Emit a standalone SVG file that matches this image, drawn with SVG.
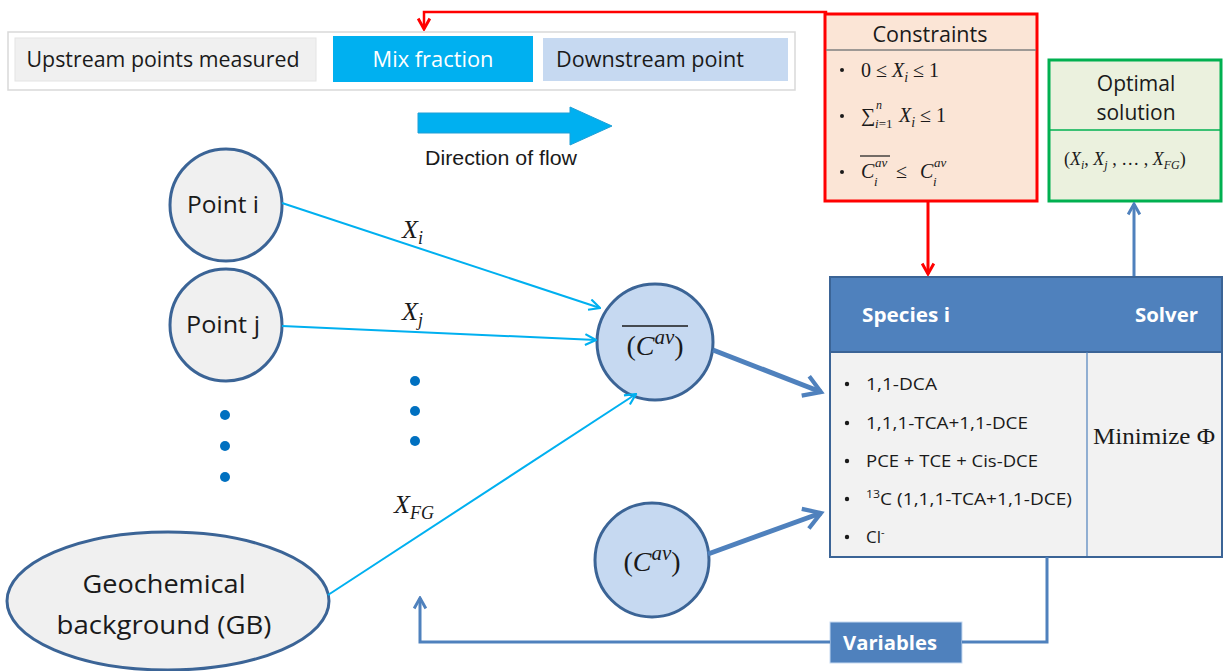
<svg xmlns="http://www.w3.org/2000/svg" width="1223" height="671" viewBox="0 0 1223 671">
<style>
.sans{font-family:"Liberation Sans",Arial,sans-serif;fill:#1a1a1a}
.cal{font-family:"Open Sans","Liberation Sans",sans-serif;fill:#1a1a1a}
.math{font-family:"Liberation Serif","DejaVu Serif",serif;font-style:italic;fill:#1a1a1a}
.rom{font-family:"Liberation Serif","DejaVu Serif",serif;fill:#1a1a1a}
.node{fill:#f0f0f0;stroke:#3b6496;stroke-width:3}
.cav{fill:#c6d9f1;stroke:#3b6496;stroke-width:3}
.cyan{stroke:#00b0f0;stroke-width:2;fill:none}
.thick{stroke:#4f81bd;stroke-width:5;fill:none}
.dot{fill:#0070c0}
.wb{font-family:"Open Sans","Liberation Sans",sans-serif;font-weight:bold;fill:#fff}
</style>
<defs>
<marker id="mc" viewBox="0 0 12 12" refX="11" refY="6" markerWidth="13" markerHeight="13" markerUnits="userSpaceOnUse" orient="auto">
<path d="M1,1 L11,6 L1,11" fill="none" stroke="#00b0f0" stroke-width="2"/>
</marker>
<marker id="mt" viewBox="0 0 12 12" refX="10" refY="6" markerWidth="5" markerHeight="5" orient="auto">
<path d="M2,1 L10,6 L2,11" fill="none" stroke="#4f81bd" stroke-width="2"/>
</marker>
<marker id="mb" viewBox="0 0 12 12" refX="10" refY="6" markerWidth="14" markerHeight="14" markerUnits="userSpaceOnUse" orient="auto">
<path d="M1,1 L10,6 L1,11" fill="none" stroke="#4f81bd" stroke-width="2.5"/>
</marker>
<marker id="mr" viewBox="0 0 12 12" refX="10" refY="6" markerWidth="14" markerHeight="14" markerUnits="userSpaceOnUse" orient="auto">
<path d="M1,1 L10,6 L1,11" fill="none" stroke="#ff0000" stroke-width="2.5"/>
</marker>
</defs>
<rect width="1223" height="671" fill="#fff"/>

<g id="legend">
<rect x="8" y="32" width="787" height="58" fill="#fff" stroke="#d9d9d9" stroke-width="1.5"/>
<rect x="15" y="38" width="301" height="43" fill="#f0f0f0" stroke="#e4e4e4"/>
<text class="cal" x="163" y="67" font-size="21" text-anchor="middle" textLength="273" lengthAdjust="spacingAndGlyphs">Upstream points measured</text>
<rect x="333" y="36" width="200" height="46" fill="#00b0f0"/>
<text class="cal" x="433" y="67" font-size="21" text-anchor="middle" style="fill:#fff" textLength="121" lengthAdjust="spacingAndGlyphs">Mix fraction</text>
<rect x="543" y="38" width="245" height="43" fill="#c6d9f1"/>
<text class="cal" x="650" y="67" font-size="21" text-anchor="middle" textLength="188" lengthAdjust="spacingAndGlyphs">Downstream point</text>
</g>

<g id="flow-direction">
<path d="M418,113 H570 V107 L612,126 L570,145 V133 H418 Z" fill="#00b0f0" stroke="#1f9fd6" stroke-width="1"/>
<text class="sans" x="501" y="165" font-size="20" text-anchor="middle" textLength="152" lengthAdjust="spacingAndGlyphs">Direction of flow</text>
</g>

<g id="point-i">
<circle class="node" cx="226" cy="205" r="56"/>
<text class="cal" x="223" y="213" font-size="23" text-anchor="middle" textLength="72" lengthAdjust="spacingAndGlyphs">Point i</text>
</g>
<g id="point-j">
<circle class="node" cx="226" cy="325" r="56"/>
<text class="cal" x="223" y="333" font-size="23" text-anchor="middle" textLength="74" lengthAdjust="spacingAndGlyphs">Point j</text>
</g>
<g id="left-dots">
<circle class="dot" cx="225" cy="415" r="5"/>
<circle class="dot" cx="225" cy="446" r="5"/>
<circle class="dot" cx="225" cy="477" r="5"/>
</g>
<g id="mid-dots">
<circle class="dot" cx="415" cy="381" r="5"/>
<circle class="dot" cx="415" cy="411" r="5"/>
<circle class="dot" cx="415" cy="441" r="5"/>
</g>
<g id="gb">
<ellipse class="node" cx="168" cy="601" rx="161" ry="69"/>
<text class="cal" x="164" y="593" font-size="26" text-anchor="middle" textLength="163" lengthAdjust="spacingAndGlyphs">Geochemical</text>
<text class="cal" x="164" y="634" font-size="26" text-anchor="middle" textLength="215" lengthAdjust="spacingAndGlyphs">background (GB)</text>
</g>

<g id="cav-bar">
<circle class="cav" cx="655" cy="342" r="58"/>
<text class="math" x="655" y="355" font-size="28" text-anchor="middle"><tspan font-style="normal">(</tspan>C<tspan dy="-11" font-size="21">av</tspan><tspan dy="11" font-style="normal">)</tspan></text>
<line x1="622" y1="326" x2="688" y2="326" stroke="#1a1a1a" stroke-width="1.5"/>
</g>
<g id="cav">
<circle class="cav" cx="652" cy="560" r="57"/>
<text class="math" x="652" y="571" font-size="28" text-anchor="middle"><tspan font-style="normal">(</tspan>C<tspan dy="-11" font-size="21">av</tspan><tspan dy="11" font-style="normal">)</tspan></text>
</g>

<g id="constraints">
<rect x="825" y="14" width="212" height="187" fill="#fbe5d6" stroke="#ff0000" stroke-width="3"/>
<line x1="826" y1="50" x2="1036" y2="50" stroke="#7f7f7f" stroke-width="1.5"/>
<text class="cal" x="930" y="42" font-size="21" text-anchor="middle" textLength="115" lengthAdjust="spacingAndGlyphs">Constraints</text>
<circle cx="842" cy="70" r="2" fill="#1a1a1a"/>
<circle cx="842" cy="116" r="2" fill="#1a1a1a"/>
<circle cx="842" cy="172" r="2" fill="#1a1a1a"/>
<text class="rom" x="861" y="77" font-size="20">0 ≤ <tspan class="math">X</tspan><tspan class="math" dy="5" font-size="14">i</tspan><tspan dy="-5"> ≤ 1</tspan></text>
<text class="rom" x="861" y="122" font-size="20">∑</text>
<text class="math" x="876" y="109" font-size="12">n</text>
<text class="math" x="875" y="128" font-size="13">i<tspan font-style="normal">=1</tspan></text>
<text class="rom" x="899" y="122" font-size="20"><tspan class="math">X</tspan><tspan class="math" dy="5" font-size="14">i</tspan><tspan dy="-5"> ≤ 1</tspan></text>
<text class="math" x="861" y="178" font-size="20">C</text>
<text class="math" x="875" y="167" font-size="13">av</text>
<text class="math" x="874" y="186" font-size="13">i</text>
<text class="rom" x="896" y="178" font-size="20">≤</text>
<text class="math" x="920" y="178" font-size="20">C</text>
<text class="math" x="934" y="167" font-size="13">av</text>
<text class="math" x="933" y="186" font-size="13">i</text>
<line x1="860" y1="156" x2="890" y2="156" stroke="#1a1a1a" stroke-width="1.2"/>
</g>

<g id="optimal">
<rect x="1049" y="60" width="172" height="141" fill="#ebf1de" stroke="#00b050" stroke-width="3"/>
<line x1="1050" y1="130" x2="1220" y2="130" stroke="#00b050" stroke-width="1.5"/>
<text class="cal" x="1136" y="91" font-size="21" text-anchor="middle">Optimal</text>
<text class="cal" x="1136" y="120" font-size="21" text-anchor="middle">solution</text>
<text class="rom" x="1064" y="165" font-size="18">(<tspan class="math">X</tspan><tspan class="math" dy="4" font-size="12">i</tspan><tspan dy="-4">, </tspan><tspan class="math">X</tspan><tspan class="math" dy="4" font-size="12">j</tspan><tspan dy="-4"> , … , </tspan><tspan class="math">X</tspan><tspan class="math" dy="4" font-size="12">FG</tspan><tspan dy="-4">)</tspan></text>
</g>

<g id="solver-box">
<rect x="830" y="277" width="392" height="280" fill="#f2f2f2" stroke="#3b6496" stroke-width="2"/>
<rect x="830" y="277" width="392" height="75" fill="#4f81bd" stroke="#3b6496" stroke-width="2"/>
<line x1="1087" y1="352" x2="1087" y2="556" stroke="#4f81bd" stroke-width="1.2"/>
<text class="wb" x="862" y="322" font-size="20" textLength="88" lengthAdjust="spacingAndGlyphs">Species i</text>
<text class="wb" x="1198" y="322" font-size="20" text-anchor="end" textLength="63" lengthAdjust="spacingAndGlyphs">Solver</text>
<g class="cal" font-size="17">
<circle cx="847" cy="384" r="2.2" fill="#1a1a1a"/>
<text x="866" y="390" textLength="71" lengthAdjust="spacingAndGlyphs">1,1-DCA</text>
<circle cx="847" cy="423" r="2.2" fill="#1a1a1a"/>
<text x="866" y="429" textLength="162" lengthAdjust="spacingAndGlyphs">1,1,1-TCA+1,1-DCE</text>
<circle cx="847" cy="461" r="2.2" fill="#1a1a1a"/>
<text x="866" y="467" textLength="172" lengthAdjust="spacingAndGlyphs">PCE + TCE + Cis-DCE</text>
<circle cx="847" cy="499" r="2.2" fill="#1a1a1a"/>
<text x="866" y="505" textLength="206" lengthAdjust="spacingAndGlyphs"><tspan font-size="11" dy="-7">13</tspan><tspan dy="7">C (1,1,1-TCA+1,1-DCE)</tspan></text>
<circle cx="847" cy="537" r="2.2" fill="#1a1a1a"/>
<text x="866" y="543">Cl<tspan font-size="11" dy="-7">-</tspan></text>
</g>
<text class="rom" x="1093" y="444" font-size="24" textLength="122" lengthAdjust="spacingAndGlyphs">Minimize Φ</text>
</g>

<g id="variables">
<rect x="830" y="622" width="132" height="41" fill="#4f81bd" stroke="#c6d9f1" stroke-width="1"/>
<text class="wb" x="890" y="650" font-size="20" text-anchor="middle" textLength="94" lengthAdjust="spacingAndGlyphs">Variables</text>
</g>

<g id="labels">
<text class="math" x="402" y="238" font-size="26">X<tspan dy="6" font-size="18">i</tspan></text>
<text class="math" x="402" y="320" font-size="26">X<tspan dy="6" font-size="18">j</tspan></text>
<text class="math" x="394" y="513" font-size="26">X<tspan dy="6" font-size="18">FG</tspan></text>
</g>

<g id="connectors">
<line class="cyan" x1="282" y1="203" x2="600" y2="308" marker-end="url(#mc)"/>
<line class="cyan" x1="282" y1="326" x2="596" y2="340" marker-end="url(#mc)"/>
<line class="cyan" x1="328" y1="595" x2="636" y2="394" marker-end="url(#mc)"/>
<line class="thick" x1="713" y1="350" x2="821" y2="392" marker-end="url(#mt)"/>
<line class="thick" x1="708" y1="554" x2="821" y2="513" marker-end="url(#mt)"/>
<path d="M826,14 V12 H424 V29" fill="none" stroke="#ff0000" stroke-width="2.5" marker-end="url(#mr)"/>
<line x1="928" y1="202" x2="928" y2="274" stroke="#ff0000" stroke-width="3" marker-end="url(#mr)"/>
<line x1="1134" y1="276" x2="1134" y2="204" stroke="#4f81bd" stroke-width="3" marker-end="url(#mb)"/>
<path d="M1047,557 V642 H962 M830,642 H420 V598" fill="none" stroke="#4f81bd" stroke-width="3" marker-end="url(#mb)"/>
</g>
</svg>
